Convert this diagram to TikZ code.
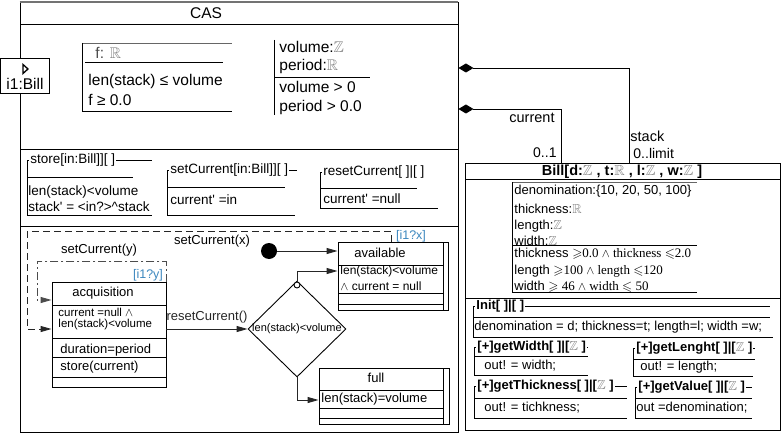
\documentclass[tikz,border=0pt]{standalone}
\usepackage{amssymb}
\usepackage{fontspec}
\setmainfont{Liberation Sans}
\newfontfamily\seriffont{Liberation Serif}
\usetikzlibrary{arrows.meta,shapes.geometric}

\definecolor{guardblue}{RGB}{60,135,190}
\newcommand{\intset}{\textcolor{gray}{$\mathbb{Z}$}}
\newcommand{\realset}{\textcolor{gray}{$\mathbb{R}$}}

\begin{document}
\begin{tikzpicture}[x=1pt, y=-1pt, line width=0.9pt,
    lbl/.style={anchor=west, inner sep=0pt},
    lg/.style={font=\fontsize{15.5}{18}\selectfont},
    md/.style={font=\fontsize{13.5}{16}\selectfont},
    sm/.style={font=\fontsize{13}{15}\selectfont},
    tn/.style={font=\fontsize{11.5}{13}\selectfont},
    hd/.style={fill=white, inner xsep=1pt, inner ysep=0pt, anchor=west},
    bhd/.style={hd, font=\fontsize{13}{15}\selectfont\bfseries},
    state/.style={draw, inner sep=0pt},
    trans/.style={black!85, -{Triangle[length=11pt, width=6pt]}},
    composition/.style={arrows={Diamond[length=15pt, width=9pt]-}},
    guard/.style={text=guardblue, font=\fontsize{12.5}{15}\selectfont, inner sep=0pt}]
  \useasboundingbox (0,0) rectangle (781,433);

  % CAS
  \node[draw, minimum width=438pt, minimum height=430pt, inner sep=0pt] (cas) at (239,217) {};
  \draw[black!55, line width=2pt] (cas.north west) -- (cas.north east);
  \node[lg] (castitle) at (206,13) {CAS};
  \draw (20,24) -- (458,24);
  \draw (20,149) -- (458,149);
  \draw (20,226) -- (458,226);

  \node[draw, fill=white, minimum width=49pt, minimum height=35pt, inner sep=0pt] (port) at (24.5,75.5) {};
  \draw[line width=1.3pt] (23,64.5) -- (28,69) -- (23,73.5) -- cycle;
  \node[lg, inner sep=0pt] (portname) at (25,84) {i1:Bill};

  \draw[black!60] (82,43) -- (232,43);
  \draw (82,43) -- (82,111) -- (232,111);
  \draw (85,62) -- (223,62);
  \node[lbl, lg] (fdecl) at (95,53) {\textcolor{black!70}{f:} \realset};
  \node[lbl, lg] (finv) at (88,81) {len(stack) ≤ volume};
  \node[lbl, lg] (fpos) at (88,100) {f ≥ 0.0};

  \draw (274,40) -- (274,115);
  \draw (274,77) -- (370,77);
  \node[lbl, lg] (voldecl) at (279,47) {volume:\intset};
  \node[lbl, lg] (perdecl) at (279,66) {period:\realset};
  \node[lbl, lg] (volinv) at (279,87) {volume > 0};
  \node[lbl, lg] (perinv) at (279,107) {period > 0.0};

  % operations
  \draw (27,160) -- (27,215) -- (152,215);
  \draw (27,160) -- (152,160);
  \draw (27,177) -- (133,177);
  \node[hd, md] (storehd) at (29,160) {store[in:Bill]][ ]};
  \node[lbl, md] (storepre) at (28,192) {len(stack)<volume};
  \node[lbl, md] (storepost) at (28,207) {stack\textquotesingle{} = <in?>\textasciicircum stack};

  \draw (167,170) -- (167,215) -- (295,215);
  \draw (167,170) -- (297,170);
  \draw (167,187) -- (285,187);
  \node[hd, md] (sethd) at (169,170) {setCurrent[in:Bill]][ ]};
  \node[lbl, md] (setpost) at (170,200) {current\textquotesingle{} =in};

  \draw (320,172) -- (320,208) -- (438,208);
  \draw (320,172) -- (420,172);
  \draw (320,188) -- (417,188);
  \node[hd, md] (resethd) at (322,172) {resetCurrent[ ]|[ ]};
  \node[lbl, md] (resetpost) at (323,199) {current\textquotesingle{} =null};

  % statechart
  \node[state, minimum width=114pt, minimum height=105pt] (acquisition) at (109,334.5) {};
  \node[sm] (acqname) at (103,293) {acquisition};
  \draw (52,305) -- (166,305);
  \draw (52,338) -- (166,338);
  \draw (52,357) -- (166,357);
  \draw (52,377) -- (166,377);
  \node[lbl, tn] (acqinv1) at (58,312) {current =null $\wedge$};
  \node[lbl, tn] (acqinv2) at (58,325) {len(stack)<volume};
  \node[lbl, sm] (acqdo) at (60,350) {duration=period};
  \node[lbl, sm] (acqexit) at (60,367) {store(current)};

  \node[state, minimum width=110pt, minimum height=68pt] (available) at (393,276) {};
  \draw (443,242) -- (443,310);
  \node[sm] (avname) at (380,253) {available};
  \draw (338,265) -- (443,265);
  \draw (338,293) -- (443,293);
  \draw (338,304) -- (443,304);
  \node[lbl, font=\fontsize{12}{14}\selectfont] (avinv1) at (340,271.5) {len(stack)<volume};
  \node[lbl, font=\fontsize{12}{14}\selectfont] (avinv2) at (340,286) {$\wedge$ current = null};

  \node[state, minimum width=130pt, minimum height=56pt] (full) at (384,396) {};
  \draw (443,368) -- (443,424);
  \node[sm] (fullname) at (376,378) {full};
  \draw (319,390) -- (443,390);
  \draw (319,408) -- (443,408);
  \draw (319,418) -- (443,418);
  \node[lbl, sm] (fullinv) at (321,399) {len(stack)=volume};

  \node[circle, fill=black, minimum size=16pt, inner sep=0pt] (initial) at (269,251) {};
  \node[draw, diamond, minimum width=98pt, minimum height=96pt, inner sep=0pt] (choice) at (297,329) {};
  \node[font=\fontsize{11}{13}\selectfont, inner sep=0pt] (choicetxt) at (choice) {len(stack)<volume};
  \node[draw, circle, fill=white, minimum size=6pt, inner sep=0pt] (junction) at (297,285) {};

  \path (full.west) ++(0,4) coordinate (fullentry);
  \path (available.west) ++(0,-5) coordinate (aventry);
  \path (available.north west) ++(54,0) coordinate (avtop);
  \coordinate (selfy) at (37,300);

  \draw[trans] (initial) -- (initial -| available.west);
  \draw[trans] (junction.north) |- (aventry);
  \draw[trans] (choice.south) |- (fullentry);
  \draw[trans] (acquisition.east |- choice.west) -- (choice.west)
    node[midway, above=2pt, sm] {resetCurrent()};
  \draw[trans, dash pattern=on 7pt off 4pt] (avtop) -- ++(0,-10) -| (27,329)
    -- (acquisition.west |- choice.west);
  \draw[trans, black!70, dash pattern=on 8pt off 3pt on 2pt off 3pt] (acquisition.north east)
    -- ++(0,-20) -| (selfy) -- (acquisition.west |- selfy);
  \node[sm] (setx) at (212,241) {setCurrent(x)};
  \node[guard] (guardx) at (411,236) {[i1?x]};
  \node[sm] (sety) at (99,250) {setCurrent(y)};
  \node[guard] (guardy) at (148,275) {[i1?y]};

  % Bill
  \node[draw, minimum width=315pt, minimum height=267pt, inner sep=0pt] (bill) at (622.5,296.5) {};
  \node[font=\fontsize{14.5}{17}\selectfont\bfseries, inner sep=0pt] (billtitle) at (622,171.5)
    {Bill[d:\intset{} , t:\realset{} , l:\intset{} , w:\intset{} ]};
  \draw (465,179) -- (780,179);
  \draw (465,298) -- (780,298);

  \coordinate (stackbend) at (629,68);
  \coordinate (currentbend) at (561,109);
  \draw[composition] (cas.east |- stackbend) -- (stackbend) -- (stackbend |- bill.north);
  \draw[composition] (cas.east |- currentbend) -- (currentbend) -- (currentbend |- bill.north);
  \node[anchor=east, font=\fontsize{14.5}{17}\selectfont, inner sep=1pt] (currentlbl) at (556,118) {current};
  \node[anchor=east, font=\fontsize{14}{16}\selectfont, inner sep=0pt] (currentmul) at (557,153) {0..1};
  \node[anchor=west, font=\fontsize{14.5}{17}\selectfont, inner sep=1pt] (stacklbl) at (629,136) {stack};
  \node[anchor=west, font=\fontsize{14}{16}\selectfont, inner sep=0pt] (stackmul) at (633,153) {0..limit};

  \draw[black!60] (512,182) -- (697,182);
  \draw (512,182) -- (512,292) -- (697,292);
  \draw (512,245) -- (697,245);
  \node[lbl, sm] (denom) at (514,191) {denomination:\{10, 20, 50, 100\}};
  \node[lbl, sm] (thick) at (514,209) {thickness:\realset};
  \node[lbl, sm] (len) at (514,226) {length:\intset};
  \node[lbl, sm] (wid) at (514,241) {width:\intset};
  \node[lbl, sm] (thickinv) at (514,254) {thickness {\seriffont$\geqslant$0.0 $\wedge$ thickness $\leqslant$2.0}};
  \node[lbl, sm] (leninv) at (514,271) {length {\seriffont$\geqslant$100 $\wedge$ length $\leqslant$120}};
  \node[lbl, sm] (widinv) at (514,287) {width {\seriffont$\geqslant$ 46 $\wedge$ width $\leqslant$ 50}};

  \draw (473,306) -- (473,337) -- (773,337);
  \draw (473,306) -- (770,306);
  \draw (473,317) -- (770,317);
  \node[bhd] (inithd) at (475,306) {Init[ ]|[ ]};
  \node[lbl, sm] (initpost) at (474,327) {denomination = d; thickness=t; length=l; width =w;};

  \draw (474,347) -- (474,375) -- (588,375);
  \draw (474,347) -- (588,347);
  \draw (474,356) -- (588,356);
  \node[bhd] (getwhd) at (476,347) {[+]getWidth[ ]|[\intset{} ]};
  \node[lbl, sm] (getwpost) at (484,366) {out! = width;};

  \draw (633,348) -- (633,376) -- (753,376);
  \draw (633,348) -- (755,348);
  \draw (633,359) -- (755,359);
  \node[bhd] (getlhd) at (635,348) {[+]getLenght[ ]|[\intset{} ]};
  \node[lbl, sm] (getlpost) at (640,367) {out! = length;};

  \draw (474,386) -- (474,418) -- (627,418);
  \draw (474,386) -- (627,386);
  \draw (474,398) -- (627,398);
  \node[bhd] (getthd) at (476,386) {[+]getThickness[ ]|[\intset{} ]};
  \node[lbl, sm] (gettpost) at (484,408) {out! = tichkness;};

  \draw (635,387) -- (635,418) -- (752,418);
  \draw (635,387) -- (752,387);
  \draw (635,398) -- (752,398);
  \node[bhd] (getvhd) at (637,387) {[+]getValue[ ]|[\intset{} ]};
  \node[lbl, sm] (getvpost) at (636,408) {out =denomination;};
\end{tikzpicture}
\end{document}
